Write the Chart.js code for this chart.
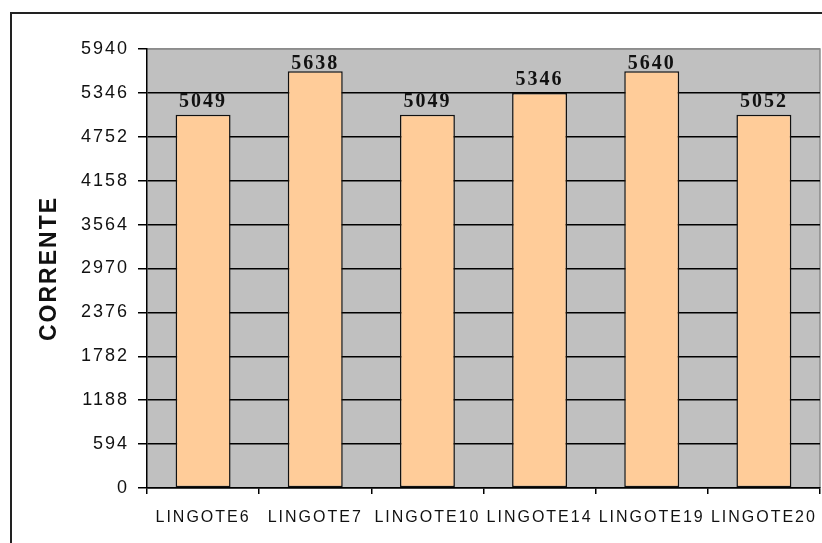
<!DOCTYPE html>
<html>
<head>
<meta charset="utf-8">
<script src="https://cdn.jsdelivr.net/npm/chart.js@4/dist/chart.umd.min.js"></script>
<style>
  html, body { margin: 0; padding: 0; background: #fff; }
  #wrap { position: relative; width: 822px; height: 543px; overflow: hidden; }
  #frame { position: absolute; left: 10px; top: 12px; width: 900px; height: 600px;
           border-left: 2px solid #222; border-top: 2px solid #222; }
  #myChart { position: absolute; left: 0; top: 0; }
</style>
</head>
<body>
<div id="wrap">
  <div id="frame"></div>
  <canvas id="myChart" width="822" height="543"></canvas>
</div>
<script>
// categorie e valori di corrente
const lingotti = ['LINGOTE6', 'LINGOTE7', 'LINGOTE10', 'LINGOTE14', 'LINGOTE19', 'LINGOTE20'];
const corrente = [5049, 5638, 5049, 5346, 5640, 5052];
const yMax = 5940;
const yStep = 594;

// testo un po' spaziato per tutte le scritte
const spacing = {
  id: 'spacing',
  beforeDraw(chart) {
    chart.ctx.letterSpacing = '2px';
  }
};

// sfondo grigio dell'area del grafico + bordo grigio sopra e a destra
const plotBg = {
  id: 'plotBg',
  beforeDraw(chart) {
    const { ctx, chartArea: a } = chart;
    ctx.save();
    ctx.fillStyle = '#c0c0c0';
    ctx.fillRect(a.left, a.top, a.right - a.left, a.bottom - a.top);
    ctx.strokeStyle = '#8c8c8c';
    ctx.lineWidth = 1.5;
    ctx.beginPath();
    ctx.moveTo(a.left, a.top);
    ctx.lineTo(a.right, a.top);
    ctx.lineTo(a.right, a.bottom);
    ctx.stroke();
    ctx.restore();
  }
};

// etichette dei valori sopra le barre
const valueLabels = {
  id: 'valueLabels',
  afterDatasetsDraw(chart) {
    const { ctx, chartArea: a } = chart;
    const meta = chart.getDatasetMeta(0);
    ctx.save();
    ctx.font = 'bold 20px "Liberation Serif", "Times New Roman", serif';
    ctx.letterSpacing = '2px';
    ctx.fillStyle = '#111';
    ctx.textAlign = 'center';
    ctx.textBaseline = 'alphabetic';
    meta.data.forEach((bar, i) => {
      const y = Math.max(bar.y - 8, a.top + 20);
      ctx.fillText(String(corrente[i]), bar.x, y);
    });
    ctx.restore();
  }
};

const ctx = document.getElementById('myChart').getContext('2d');
const myChart = new Chart(ctx, {
  type: 'bar',
  data: {
    labels: lingotti,
    datasets: [{
      data: corrente,
      backgroundColor: '#ffcc99',
      borderColor: '#111',
      borderWidth: 1.5,
      borderSkipped: false,
      barPercentage: 0.49,
      categoryPercentage: 1
    }]
  },
  options: {
    responsive: false,
    animation: false,
    layout: { padding: { left: 0, top: 49, right: 1, bottom: 0 } },
    plugins: {
      legend: { display: false },
      tooltip: { enabled: false }
    },
    scales: {
      x: {
        afterFit(scale) { scale.height = 55; },
        grid: {
          offset: true,
          drawOnChartArea: false,
          tickLength: 6,
          color: '#000',
          lineWidth: 1.5
        },
        border: { color: '#000', width: 1.5 },
        ticks: {
          color: '#111',
          padding: 14,
          maxRotation: 0,
          autoSkip: false,
          font: { family: '"Liberation Sans", Arial, sans-serif', size: 16 }
        }
      },
      y: {
        min: 0,
        max: yMax,
        afterFit(scale) { scale.width = 147; },
        grid: {
          color: (c) => (c.tick && c.tick.value === yMax ? '#8c8c8c' : '#000'),
          tickColor: '#000',
          lineWidth: 1.5,
          tickLength: 9
        },
        border: { color: '#000', width: 1.5 },
        ticks: {
          stepSize: yStep,
          color: '#111',
          padding: 9,
          font: { family: '"Liberation Sans", Arial, sans-serif', size: 18 },
          callback: (v) => String(Math.round(v))
        },
        title: {
          display: true,
          text: 'CORRENTE',
          color: '#111',
          padding: { top: 36 },
          font: { family: '"Liberation Sans", Arial, sans-serif', size: 23, weight: 'bold' }
        }
      }
    }
  },
  plugins: [spacing, plotBg, valueLabels]
});
</script>
</body>
</html>
